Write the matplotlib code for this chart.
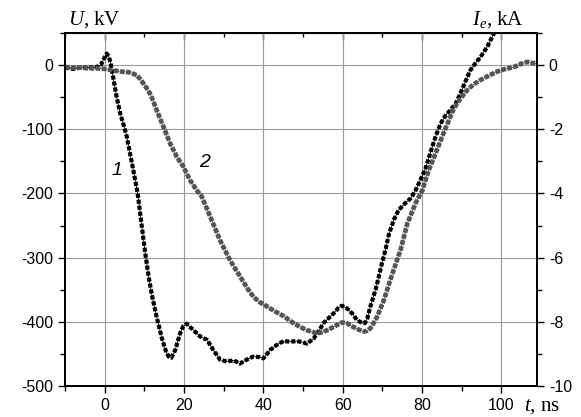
import numpy as np
import matplotlib
matplotlib.use("Agg")
import matplotlib.pyplot as plt
from matplotlib.ticker import MultipleLocator

plt.rcParams['font.family'] = ['Liberation Sans', 'DejaVu Sans']
plt.rcParams['axes.unicode_minus'] = False
plt.rcParams['mathtext.fontset'] = 'custom'
plt.rcParams['mathtext.rm'] = 'Liberation Serif'
plt.rcParams['mathtext.it'] = 'Liberation Serif:italic'

###############################################################################
# data
# curve 1 : voltage U, kV
t1 = [-10, -8, -6, -4, -2, -1, 0, 0.5, 1.0, 1.5, 2.2, 3.0, 3.9, 4.9, 5.6, 6.4,
      7.2, 8.3, 9.3, 10.3, 11.1, 11.9, 13.1, 14.4, 15.4, 16.1, 16.8, 17.8,
      19.0, 19.8, 20.7, 21.5, 22.4, 24.1, 25.8, 27.4, 29.1, 30.8, 32.5, 34.1,
      35.8, 37.5, 39.0, 40.0, 41.7, 43.4, 45.1, 46.8, 48.5, 50.0, 51.0, 52.7,
      54.0, 55.2, 56.5, 57.7, 59.0, 59.8, 61.1, 62.4, 63.6, 64.9, 65.6, 66.2,
      67.0, 68.3, 69.1, 69.9, 70.8, 71.6, 72.9, 74.1, 75.8, 77.1, 78.4, 79.6,
      80.9, 82.2, 83.4, 84.7, 86.0, 87.2, 88.5, 89.7, 91.0, 92.2, 93.5, 94.8,
      96.5, 98.1, 99.5]
u1 = [-4, -6, -4, -4, -3, 0, 12, 18, 14, 3, -21, -49, -75, -96, -112, -138,
      -163, -199, -248, -296, -330, -358, -392, -425, -445, -454, -456, -444,
      -418, -407, -403, -408, -413, -423, -428, -444, -459, -462, -460, -465,
      -459, -454, -455, -457, -444, -436, -430, -431, -430, -432, -434, -426,
      -414, -402, -394, -387, -378, -375, -379, -387, -397, -402, -402, -395,
      -376, -350, -330, -309, -288, -265, -241, -226, -215, -208, -195, -179,
      -161, -135, -112, -91, -78, -70, -60, -44, -25, -8, 3, 13,
      29, 49, 65]

# curve 2 : current Ie, kA
t2 = [-10, -8, -6, -4, -2, 0, 2, 4, 6, 7, 8.1, 9.0, 9.8, 10.6, 11.4, 12.3,
      13.1, 14.8, 16.5, 18.2, 19.8, 21.5, 23.2, 24.5, 26.6, 29.1, 31.6, 34.2,
      36.0, 37.5, 39.0, 40.9, 43.0, 45.1, 47.6, 49.3, 51.0, 53.5, 55.0, 56.1,
      58.0, 59.8, 61.0, 62.4, 64.0, 65.3, 66.2, 67.0, 67.8, 68.7, 70.4, 72.0,
      73.7, 74.6, 76.3, 78.4, 80.1, 81.7, 83.4, 85.5, 88.0, 89.7, 91.4, 93.0,
      94.8, 97.0, 99.0, 101.0, 103.2, 105.0, 106.6, 108.0, 109.0]
i2 = [-0.06, -0.08, -0.08, -0.10, -0.10, -0.12, -0.16, -0.20, -0.22, -0.26,
      -0.32, -0.44, -0.58, -0.72, -0.88, -1.14, -1.40, -1.92, -2.44, -2.86,
      -3.16, -3.58, -3.90, -4.10, -4.72, -5.46, -6.08, -6.60, -6.96, -7.22,
      -7.38, -7.52, -7.68, -7.82, -8.04, -8.16, -8.26, -8.36, -8.32, -8.26,
      -8.14, -8.02, -8.04, -8.14, -8.24, -8.30, -8.28, -8.20, -8.04, -7.84,
      -7.32, -6.70, -6.08, -5.76, -4.94, -4.30, -3.90, -3.28, -2.76, -2.10,
      -1.36, -1.04, -0.78, -0.60, -0.46, -0.32, -0.20, -0.12, -0.06, 0.04,
      0.10, 0.06, 0.06]

###############################################################################
fig = plt.figure(figsize=(5.81, 4.17), dpi=100)
ax = fig.add_axes([65/581, 1-386/417, (537-65)/581, (386-33)/417])

# curve 1 - black squares
ax.plot(t1, u1, color='black', lw=0.6, zorder=3)
ax.plot(t1, u1, color='black', lw=3.0, ls=(0, (1, 0.45)),
        dash_capstyle='butt', zorder=3)

ax.set_xlim(-10, 109)
ax.set_ylim(-500, 50)
ax.xaxis.set_major_locator(MultipleLocator(20))
ax.xaxis.set_minor_locator(MultipleLocator(10))
ax.yaxis.set_major_locator(MultipleLocator(100))
ax.yaxis.set_minor_locator(MultipleLocator(50))
ax.grid(True, which='major', color='#999999', lw=0.8)
ax.tick_params(which='both', direction='out', labelsize=11.5, width=1,
               right=False, top=False)
ax.tick_params(which='major', length=5)
ax.tick_params(which='minor', length=3.5)
for s in ax.spines.values():
    s.set_linewidth(1.3)

top = ax.secondary_xaxis('top')
top.xaxis.set_major_locator(MultipleLocator(20))
top.xaxis.set_minor_locator(MultipleLocator(10))
top.tick_params(which='both', direction='in', labeltop=False, width=1)
top.tick_params(which='major', length=5)
top.tick_params(which='minor', length=3)

# curve 2 - grey squares on current axis
ax2 = ax.twinx()
ax2.set_ylim(-10, 1)
ax2.plot(t2, i2, color='#555555', lw=0.6)
ax2.plot(t2, i2, color='#555555', lw=3.4, ls=(0, (1, 0.3)),
         dash_capstyle='butt')
ax2.yaxis.set_major_locator(MultipleLocator(2))
ax2.yaxis.set_minor_locator(MultipleLocator(1))
ax2.tick_params(which='both', direction='out', labelsize=11.5, width=1)
ax2.tick_params(which='major', length=5)
ax2.tick_params(which='minor', length=3.5)
for s in ax2.spines.values():
    s.set_linewidth(1.3)

# labels
fig.text(68/581, 1-25/417, r'$U$, kV', fontsize=15, family='Liberation Serif',
         va='baseline', ha='left')
fig.text(524/581, 1-25/417, r'$I_e$, kA', fontsize=15, family='Liberation Serif',
         va='baseline', ha='right')
fig.text(524/581, 1-411/417, r'$t$, ns', fontsize=15, family='Liberation Serif',
         va='baseline', ha='left')
ax.text(3.2, -164, '1', fontsize=14, style='italic', ha='center', va='center')
ax.text(25.3, -151, '2', fontsize=14, style='italic', ha='center', va='center')

fig.savefig('out.png', dpi=100)
